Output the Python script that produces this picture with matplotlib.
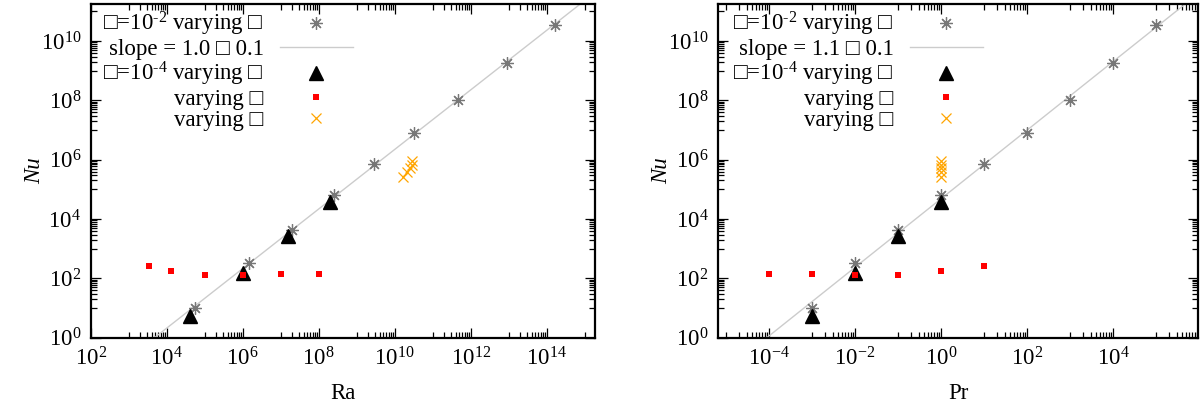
import numpy as np
import matplotlib
matplotlib.use("Agg")
import matplotlib.pyplot as plt
from matplotlib.ticker import FixedLocator, LogFormatterSciNotation, NullFormatter

plt.rcParams['font.family'] = ['Liberation Serif', 'DejaVu Serif']
plt.rcParams['mathtext.fontset'] = 'custom'
plt.rcParams['mathtext.rm'] = 'Liberation Serif'
plt.rcParams['mathtext.it'] = 'Liberation Serif:italic'
plt.rcParams['mathtext.bf'] = 'Liberation Serif:bold'
plt.rcParams['axes.unicode_minus'] = False

# ---- data ----
ra_star = [5.6e4, 1.5e6, 2.0e7, 2.6e8, 2.9e9, 3.2e10, 4.5e11, 9.1e12, 1.7e14]
pr_star = [1e-3, 1e-2, 1e-1, 1.0, 10.0, 1e2, 1e3, 1e4, 1e5]
nu_star = [9.8, 324, 4.4e3, 6.3e4, 7.4e5, 8.1e6, 1.05e8, 1.86e9, 3.5e10]

ra_tri = [4.1e4, 1.0e6, 1.6e7, 2.0e8]
pr_tri = [1e-3, 1e-2, 1e-1, 1.0]
nu_tri = [5.2, 148, 2.6e3, 3.8e4]

ra_sq = [3.4e3, 1.3e4, 1e5, 1e6, 1e7, 1e8]
pr_sq = [10.0, 1.0, 0.1, 0.01, 1e-3, 1e-4]
nu_sq = [269, 178, 126, 132, 141, 141]

ra_x = [1.7e10, 2.1e10, 2.5e10, 2.8e10, 2.9e10]
pr_x = [1.0, 1.0, 1.0, 1.0, 1.0]
nu_x = [2.7e5, 3.8e5, 5.4e5, 6.9e5, 8.9e5]

lab_star = "\u25a1=10$^{\\text{-2}}$ varying \u25a1"
lab_tri = "\u25a1=10$^{\\text{-4}}$ varying \u25a1"
lab_sq = "varying \u25a1"
lab_x = "varying \u25a1"
lab_fit_ra = "slope = 1.0 \u25a1 0.1"
lab_fit_pr = "slope = 1.1 \u25a1 0.1"

fig = plt.figure(figsize=(12, 4.08), dpi=100)
ax1 = fig.add_axes([90.7/1200, (408-337.7)/408, (595-90.7)/1200, (337.7-4)/408])
ax2 = fig.add_axes([718.3/1200, (408-337.7)/408, (1197.7-718.3)/1200, (337.7-4)/408])

FS = 16.5
GRAY = '#777777'
ast = (8, 2, 0)


def minor_ticks(lo, hi):
    vals = []
    for e in range(int(np.floor(np.log10(lo))) - 1, int(np.ceil(np.log10(hi))) + 1):
        if e % 2 != 0:
            for k in range(1, 10):
                v = k * 10.0 ** e
                if lo <= v <= hi:
                    vals.append(v)
    return vals


def panel(ax, xs_star, xs_tri, xs_sq, xs_x, xlim, majors, fitlab, legx, xlabel):
    ax.set_xscale('log')
    ax.set_yscale('log')
    ax.set_xlim(*xlim)
    ylim = (1.0, 10 ** 11.25)
    ax.set_ylim(*ylim)
    # fit line through asterisks
    p = np.polyfit(np.log10(xs_star), np.log10(nu_star), 1)
    xl = np.logspace(np.log10(xlim[0]), np.log10(xlim[1]), 200)
    h1, = ax.plot(xs_star, nu_star, ls='none', marker=ast, ms=9, mew=0.9,
                  color=GRAY, label=lab_star, zorder=3)
    h2, = ax.plot(xl, 10 ** np.polyval(p, np.log10(xl)), color='#cccccc',
                  lw=1.0, label=fitlab, zorder=2)
    h3, = ax.plot(xs_tri, nu_tri, ls='none', marker='^', ms=10, color='black',
                  label=lab_tri, zorder=4)
    h4, = ax.plot(xs_sq, nu_sq, ls='none', marker='s', ms=4.5, color='#ff0000',
                  mew=0, label=lab_sq, zorder=5)
    h5, = ax.plot(xs_x, nu_x, ls='none', marker='x', ms=7, mew=0.9,
                  color='#ffa500', label=lab_x, zorder=6)

    ax.xaxis.set_major_locator(FixedLocator(majors))
    ax.xaxis.set_major_formatter(LogFormatterSciNotation())
    ax.xaxis.set_minor_locator(FixedLocator(minor_ticks(*xlim)))
    ax.xaxis.set_minor_formatter(NullFormatter())
    ax.yaxis.set_major_locator(FixedLocator([10.0 ** k for k in range(0, 12, 2)]))
    ax.yaxis.set_major_formatter(LogFormatterSciNotation())
    ax.yaxis.set_minor_locator(FixedLocator(minor_ticks(*ylim)))
    ax.yaxis.set_minor_formatter(NullFormatter())

    ax.tick_params(which='both', direction='in', top=True, right=True,
                   labelsize=FS, width=0.9, color='black')
    ax.tick_params(which='major', length=7, pad=7)
    ax.tick_params(which='minor', length=4)
    for s in ax.spines.values():
        s.set_linewidth(1.6)
    ax.set_xlabel(xlabel, fontsize=FS, labelpad=9)
    ax.set_ylabel('Nu', fontsize=FS, style='italic', labelpad=-3)

    leg = ax.legend(handles=[h1, h2, h3, h4, h5], loc='upper right',
                    bbox_to_anchor=(legx, 0.982), frameon=False,
                    markerfirst=False, fontsize=FS, handlelength=3.2,
                    handletextpad=0.7, labelspacing=0.02, borderpad=0,
                    borderaxespad=0)
    return leg


panel(ax1, ra_star, ra_tri, ra_sq, ra_x, (1e2, 10 ** 15.27),
      [10.0 ** k for k in range(2, 16, 2)], lab_fit_ra, 0.52, 'Ra')
panel(ax2, pr_star, pr_tri, pr_sq, pr_x, (10 ** -5.18, 10 ** 5.97),
      [10.0 ** k for k in range(-4, 6, 2)], lab_fit_pr, 0.552, 'Pr')

fig.savefig('out.png', dpi=100)
